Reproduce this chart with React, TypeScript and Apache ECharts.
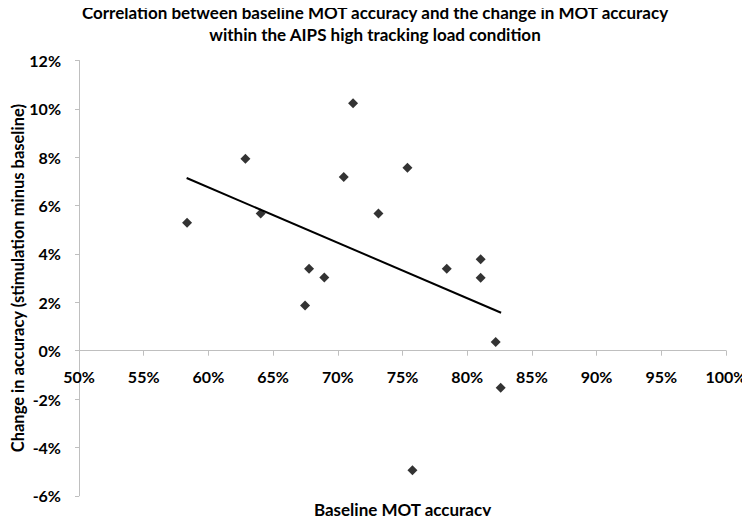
import React, { useEffect, useRef } from "react";
import * as echarts from "echarts";

const titleLines = [
  "Correlation between baseline MOT accuracy and the change in MOT accuracy",
  "within the AIPS high tracking load condition",
];
const xAxisName = "Baseline MOT accuracy";
const yAxisName = "Change in accuracy (stimulation minus baseline)";

// Baseline MOT accuracy (%)
const baselineAccuracy = [
  58.35, 62.86, 64.04, 67.78, 68.96, 67.47, 70.46, 71.18, 73.14, 75.38, 78.42,
  81.04, 81.04, 82.2, 82.59, 75.77,
];
// Change in accuracy (%)
const changeAccuracy = [
  5.29, 7.94, 5.67, 3.39, 3.03, 1.87, 7.18, 10.23, 5.67, 7.57, 3.39, 3.78,
  3.02, 0.36, -1.53, -4.94,
];
// Linear trend line endpoints [x, y]
const trendX = [58.32, 82.62];
const trendY = [7.14, 1.57];

const FONT = "Lato";
const GRID_TOP = 60.5;
const GRID_BOTTOM = 28.2;
const PLOT_H = 524 - GRID_TOP - GRID_BOTTOM;
const Y_MIN = -6;
const Y_MAX = 12;
// shift of the x axis from the grid bottom up to the zero line
const ZERO_OFFSET = -PLOT_H * ((0 - Y_MIN) / (Y_MAX - Y_MIN));

export default function App() {
  const ref = useRef<HTMLDivElement>(null);
  useEffect(() => {
    if (!ref.current) return;
    const chart = echarts.init(ref.current, null, { renderer: "svg" });
    const points = baselineAccuracy.map((x, i) => [x, changeAccuracy[i]]);
    const trend = trendX.map((x, i) => [x, trendY[i]]);
    chart.setOption({
      animation: false,
      backgroundColor: "#ffffff",
      title: {
        text: titleLines.join("\n"),
        left: "center",
        top: 1,
        padding: 0,
        textStyle: {
          fontFamily: FONT,
          fontWeight: "bold",
          fontSize: 17,
          color: "#000",
          lineHeight: 22,
        },
      },
      grid: {
        left: 79,
        right: 24,
        top: GRID_TOP,
        bottom: GRID_BOTTOM,
        containLabel: false,
        outerBoundsMode: "none",
      },
      xAxis: {
        type: "value",
        min: 50,
        max: 100,
        interval: 5,
        offset: ZERO_OFFSET,
        name: xAxisName,
        nameLocation: "middle",
        nameGap: 150,
        nameMoveOverlap: false,
        nameTextStyle: { fontFamily: FONT, fontWeight: "bold", fontSize: 17, color: "#000" },
        axisLine: { show: true, onZero: false, lineStyle: { color: "#bfbfbf", width: 1 } },
        axisTick: { show: true, length: 5, lineStyle: { color: "#bfbfbf" } },
        axisLabel: {
          formatter: (v: number) => v + "%",
          fontFamily: FONT,
          fontWeight: "bold",
          fontSize: 16,
          color: "#000",
          margin: 18,
        },
        splitLine: { show: false },
      },
      yAxis: {
        type: "value",
        min: Y_MIN,
        max: Y_MAX,
        interval: 2,
        name: yAxisName,
        nameLocation: "middle",
        nameGap: 53,
        nameMoveOverlap: false,
        nameTextStyle: { fontFamily: FONT, fontWeight: "bold", fontSize: 16.5, color: "#000" },
        axisLine: { show: true, onZero: false, lineStyle: { color: "#bfbfbf", width: 1 } },
        axisTick: { show: true, length: 4, lineStyle: { color: "#bfbfbf" } },
        axisLabel: {
          formatter: (v: number) => v + "%",
          fontFamily: FONT,
          fontWeight: "bold",
          fontSize: 16,
          color: "#000",
          margin: 18,
        },
        splitLine: { show: false },
      },
      series: [
        {
          type: "line",
          data: trend,
          symbol: "none",
          lineStyle: { color: "#000", width: 2 },
          z: 2,
        },
        {
          type: "scatter",
          data: points,
          symbol: "diamond",
          symbolSize: 10,
          itemStyle: { color: "#000" },
          z: 3,
        },
      ],
    });
    return () => chart.dispose();
  }, []);
  return <div ref={ref} style={{ width: 750, height: 524, margin: -8 }} />;
}
